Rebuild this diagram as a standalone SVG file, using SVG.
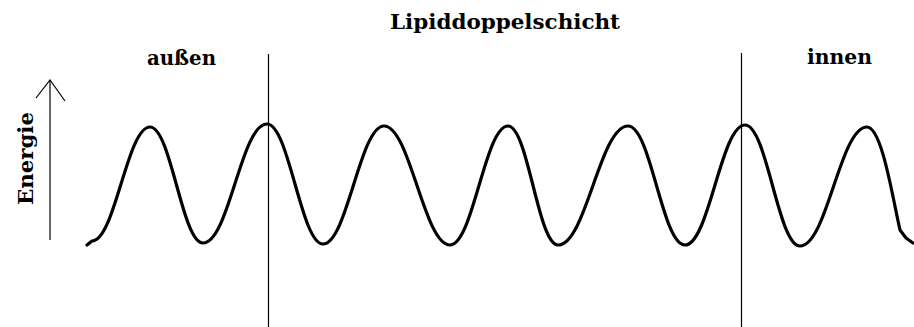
<svg xmlns="http://www.w3.org/2000/svg" width="914" height="327" viewBox="0 0 914 327">
<style>
.lbl{font-family:"DejaVu Serif","Liberation Serif",serif;font-weight:bold;font-size:20px;fill:#000}
.thin{stroke:#000;stroke-width:1.2;fill:none}
.curve{stroke:#000;stroke-width:3.2;fill:none;stroke-linejoin:round;stroke-linecap:round}
</style>
<rect width="914" height="327" fill="#fff"/>
<g id="title"><text class="lbl" x="390" y="28.5" textLength="230" lengthAdjust="spacingAndGlyphs">Lipiddoppelschicht</text></g>
<g id="label-aussen"><text class="lbl" x="147" y="65" textLength="69" lengthAdjust="spacingAndGlyphs">außen</text></g>
<g id="label-innen"><text class="lbl" x="807" y="64" textLength="65" lengthAdjust="spacingAndGlyphs">innen</text></g>
<g id="axis-energie">
<text class="lbl" transform="translate(33,158.5) rotate(-90)" text-anchor="middle" textLength="93" lengthAdjust="spacingAndGlyphs">Energie</text>
<line class="thin" x1="50" y1="240" x2="50" y2="80"/>
<polyline class="thin" points="36,98 50,80 65,101"/>
</g>
<g id="boundaries">
<line class="thin" x1="268.5" y1="54" x2="268.5" y2="327"/>
<line class="thin" x1="741.5" y1="53" x2="741.5" y2="327"/>
</g>
<g id="energy-curve">
<path class="curve" d="M87,245 L92,241 C115,241 127,127 150,127 C171,127 182,243 203,243 C229,243 241,124 267,124 C289,124 301,244 323,244 C347,244 360,126 384,126 C410,126 424,245 450,245 C473,245 485,126 508,126 C528,126 538,245 558,245 C586,245 600,126 628,126 C651,126 662,245 685,245 C709,245 721,125 745,125 C767,125 778,246 800,246 C827,246 840,127 867,127 C882,127 893,200 900,230 L906,238 L913,243"/>
</g>
</svg>
